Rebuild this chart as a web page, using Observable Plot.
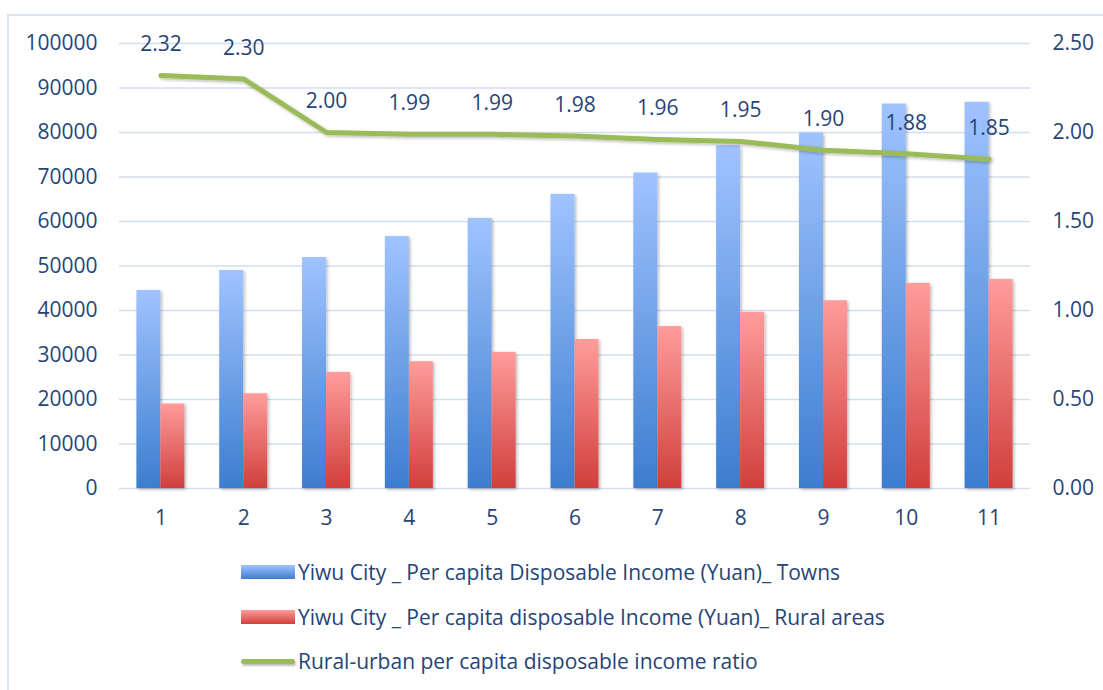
<!DOCTYPE html>
<html>
<head>
<meta charset="utf-8">
<script src="https://cdn.jsdelivr.net/npm/d3@7"></script>
<script src="https://cdn.jsdelivr.net/npm/@observablehq/plot@0.6"></script>
<style>
  html, body { margin: 0; padding: 0; background: #fff; }
  #wrap { position: relative; width: 1103px; height: 690px; overflow: hidden; font-family: "Open Sans", Lato, sans-serif; color: #264478; }
  #frame { position: absolute; left: 7px; top: 14px; width: 1120px; height: 700px; border: 2px solid #dce6f3; box-sizing: border-box; }
  #chart { position: absolute; left: 0; top: 0; }
  .leg { position: absolute; left: 241px; display: flex; align-items: center; font-size: 21px; white-space: nowrap; }
  .sw { width: 54px; height: 14px; margin-right: 3px; }
  .ln { width: 54px; height: 5px; border-radius: 3px; background: #9bbb59; margin-right: 3px; box-shadow: 1px 2px 2px rgba(0,0,0,0.25); }
</style>
</head>
<body>
<div id="wrap">
  <div id="frame"></div>
  <div id="chart"></div>
  <div id="legend"></div>
</div>
<script>
const categories = ["1","2","3","4","5","6","7","8","9","10","11"];
const towns = [44500, 49000, 51900, 56600, 60700, 66100, 70900, 77000, 79900, 86400, 86800];
const rural = [19000, 21300, 26100, 28500, 30600, 33500, 36400, 39600, 42200, 46100, 47000];
const ratio = [2.32, 2.30, 2.00, 1.99, 1.99, 1.98, 1.96, 1.95, 1.90, 1.88, 1.85];
const leftTicks = [0, 10000, 20000, 30000, 40000, 50000, 60000, 70000, 80000, 90000, 100000];
const rightTicks = [0, 0.5, 1.0, 1.5, 2.0, 2.5];
const seriesNames = [
  "Yiwu City _ Per capita Disposable Income (Yuan)_ Towns",
  "Yiwu City _ Per capita disposable Income (Yuan)_ Rural areas",
  "Rural-urban per capita disposable income ratio"
];

const LEFT_MAX = 100000, RIGHT_MAX = 2.5;
const k = LEFT_MAX / RIGHT_MAX;
const table = categories.map((c, i) => ({cat: c, towns: towns[i], rural: rural[i], ratio: ratio[i]}));

const W = 1103, H = 545, mL = 119, mR = 73, mT = 43, mB = 57;
const bw = (W - mL - mR) / categories.length;
const barW = 24;
const textColor = "#264478";

const chart = Plot.plot({
  width: W, height: H,
  marginLeft: mL, marginRight: mR, marginTop: mT, marginBottom: mB,
  style: {fontFamily: "'Open Sans', Lato, sans-serif", fontSize: "21px", color: textColor, background: "transparent", overflow: "visible"},
  x: {type: "band", domain: categories, padding: 0, round: false, label: null},
  y: {domain: [0, LEFT_MAX], label: null},
  marks: [
    Plot.gridY(leftTicks, {stroke: "#d3def0", strokeOpacity: 1, strokeWidth: 1.6}),
    Plot.axisY(leftTicks, {anchor: "left", tickSize: 0, tickPadding: 22, label: null, fill: textColor, tickFormat: d => String(d)}),
    Plot.axisY(rightTicks.map(t => t * k), {anchor: "right", tickSize: 0, tickPadding: 22, label: null, fill: textColor, tickFormat: d => (d / k).toFixed(2)}),
    Plot.axisX(categories, {anchor: "bottom", tickSize: 0, tickPadding: 22, label: null, fill: textColor}),
    Plot.barY(table, {x: "cat", y: "towns", fill: "url(#gradBlue)", insetLeft: bw / 2 - barW, insetRight: bw / 2, className: "bars"}),
    Plot.barY(table, {x: "cat", y: "rural", fill: "url(#gradRed)", insetLeft: bw / 2, insetRight: bw / 2 - barW, className: "bars"}),
    Plot.line(table, {x: "cat", y: d => d.ratio * k, stroke: "#9bbb59", strokeWidth: 5, strokeLinecap: "round", strokeLinejoin: "round", className: "ratioline"}),
    Plot.text(table, {x: "cat", y: d => d.ratio * k, text: d => d.ratio.toFixed(2), dy: -31, fill: textColor, fontSize: 21})
  ]
});

const svg = d3.select(chart);
const defs = svg.insert("defs", ":first-child");
const gb = defs.append("linearGradient").attr("id", "gradBlue").attr("x1", 0).attr("y1", 0).attr("x2", 0).attr("y2", 1);
gb.append("stop").attr("offset", "0%").attr("stop-color", "#9fc3ff");
gb.append("stop").attr("offset", "100%").attr("stop-color", "#3d7dcf");
const gr = defs.append("linearGradient").attr("id", "gradRed").attr("x1", 0).attr("y1", 0).attr("x2", 0).attr("y2", 1);
gr.append("stop").attr("offset", "0%").attr("stop-color", "#ff9c9c");
gr.append("stop").attr("offset", "100%").attr("stop-color", "#d03f3b");
const sh = defs.append("filter").attr("id", "shadow").attr("x", "-20%").attr("y", "-20%").attr("width", "150%").attr("height", "150%");
sh.append("feDropShadow").attr("dx", 1.5).attr("dy", 1.5).attr("stdDeviation", 1.5).attr("flood-color", "#000").attr("flood-opacity", 0.28);
svg.selectAll(".bars rect").attr("filter", "url(#shadow)");
svg.selectAll(".ratioline path").attr("filter", "url(#shadow)");

document.getElementById("chart").appendChild(chart);

const legend = document.getElementById("legend");
const legendRows = [
  {name: seriesNames[0], kind: "sw", bg: "linear-gradient(#9fc3ff, #3d7dcf)", y: 572},
  {name: seriesNames[1], kind: "sw", bg: "linear-gradient(#ff9c9c, #d03f3b)", y: 617},
  {name: seriesNames[2], kind: "ln", bg: null, y: 661}
];
legendRows.forEach(r => {
  const row = document.createElement("div");
  row.className = "leg";
  row.style.top = (r.y - 14) + "px";
  row.style.height = "28px";
  const s = document.createElement("div");
  s.className = r.kind;
  if (r.bg) s.style.background = r.bg;
  const t = document.createElement("span");
  t.textContent = r.name;
  row.appendChild(s);
  row.appendChild(t);
  legend.appendChild(row);
});
</script>
</body>
</html>
